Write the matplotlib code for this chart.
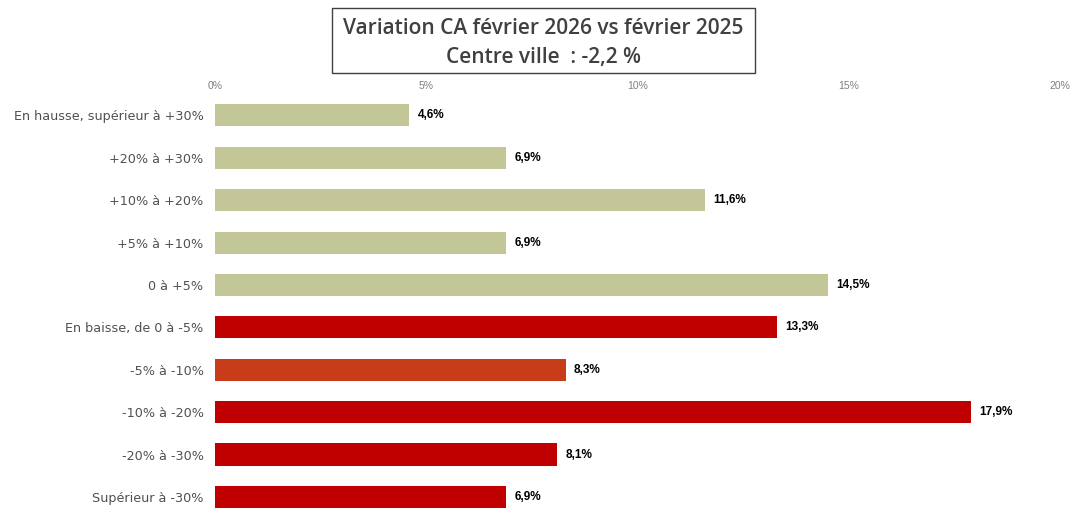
import matplotlib
matplotlib.use("Agg")
import matplotlib.pyplot as plt
from matplotlib.patches import Rectangle

# Categories (top to bottom) and shares in %
categories = ["En hausse, supérieur à +30%", "+20% à +30%", "+10% à +20%",
              "+5% à +10%", "0 à +5%", "En baisse, de 0 à -5%", "-5% à -10%",
              "-10% à -20%", "-20% à -30%", "Supérieur à -30%"]
values = [4.6, 6.9, 11.6, 6.9, 14.5, 13.3, 8.3, 17.9, 8.1, 6.9]
colors = ["#c3c696"] * 5 + ["#c00000", "#c83c1a", "#c00000", "#c00000", "#c00000"]
ticks = [0, 5, 10, 15, 20]

fig = plt.figure(figsize=(10.9, 5.26), dpi=100)
ax = fig.add_axes([0.197, 0.015, 0.7755, 0.806])

pos = list(range(len(categories)))
ax.barh(pos, values, height=0.52, color=colors, edgecolor="none")
ax.set_ylim(len(categories) - 0.5, -0.5)
ax.set_xlim(0, 20)

# value labels
for p, v in zip(pos, values):
    ax.text(v + 0.2, p, f"{v:.1f}%".replace(".", ","), va="center", ha="left",
            fontsize=8.5, fontweight="bold", color="black", family="Liberation Sans")

ax.xaxis.tick_top()
ax.set_xticks(ticks)
ax.set_xticklabels([f"{t}%" for t in ticks], fontsize=7.5, color="#808080",
                   family="Liberation Sans")
ax.set_yticks(pos)
ax.set_yticklabels(categories, fontsize=9.2, color="#505050", family="DejaVu Sans")
ax.tick_params(axis="both", length=0, pad=8)
ax.tick_params(axis="x", pad=2)
for s in ax.spines.values():
    s.set_visible(False)

# title box
fig.patches.append(Rectangle((332 / 1090, 1 - 73 / 526), 423 / 1090, 65 / 526,
                             transform=fig.transFigure, fill=False,
                             edgecolor="#404040", linewidth=1))
fig.text(543 / 1090, 1 - 28 / 526, "Variation CA février 2026 vs février 2025",
         ha="center", va="center", fontsize=15, fontweight="semibold",
         color="#404040", family="Open Sans")
fig.text(543 / 1090, 1 - 57 / 526, "Centre ville  : -2,2 %",
         ha="center", va="center", fontsize=15, fontweight="semibold",
         color="#404040", family="Open Sans")

fig.savefig("out.png", dpi=100)
